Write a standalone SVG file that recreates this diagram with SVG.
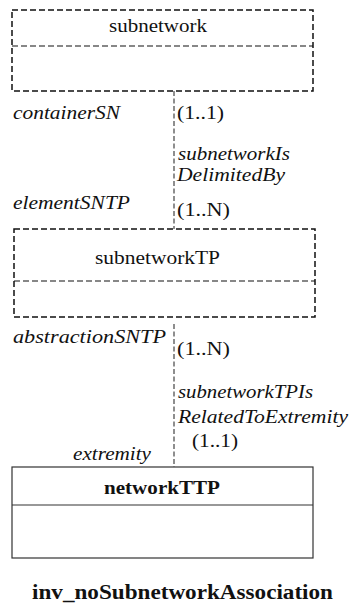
<svg xmlns="http://www.w3.org/2000/svg" width="351" height="606" viewBox="0 0 351 606">
  <style>
    text { fill: #111; }
    .it { font-style: italic; }
    .bold { font-weight: bold; }
    .mid { text-anchor: middle; }
    .dbox { fill: #fff; stroke: #111; stroke-width: 1.5; stroke-dasharray: 6 3; }
    .dline { stroke: #111; stroke-width: 1.2; stroke-dasharray: 6 3; }
    .sbox { fill: #fff; stroke: #333; stroke-width: 1.2; }
    .conn { stroke: #444; stroke-width: 1.2; stroke-dasharray: 5 2.5; fill: none; }
  </style>

  <!-- associations with role names and multiplicities -->
  <g id="connectors">
    <line class="conn" x1="174" y1="91" x2="174" y2="229"/>
    <line class="conn" x1="174" y1="324" x2="174" y2="467"/>
    <text class="it" font-family="Liberation Serif" font-size="18.5" x="13" y="119" textLength="107" lengthAdjust="spacingAndGlyphs">containerSN</text>
    <text font-family="Liberation Serif" font-size="18.5" x="177" y="119" textLength="47" lengthAdjust="spacingAndGlyphs">(1..1)</text>
    <text class="it" font-family="Liberation Serif" font-size="18.5" x="178" y="160" textLength="112" lengthAdjust="spacingAndGlyphs">subnetworkIs</text>
    <text class="it" font-family="Liberation Serif" font-size="18.5" x="177" y="181" textLength="108" lengthAdjust="spacingAndGlyphs">DelimitedBy</text>
    <text class="it" font-family="Liberation Serif" font-size="18.5" x="13" y="209" textLength="117" lengthAdjust="spacingAndGlyphs">elementSNTP</text>
    <text font-family="Liberation Serif" font-size="18.5" x="177" y="216" textLength="53" lengthAdjust="spacingAndGlyphs">(1..N)</text>
    <text class="it" font-family="Liberation Serif" font-size="18.5" x="13" y="343" textLength="153" lengthAdjust="spacingAndGlyphs">abstractionSNTP</text>
    <text font-family="Liberation Serif" font-size="18.5" x="177" y="355" textLength="53" lengthAdjust="spacingAndGlyphs">(1..N)</text>
    <text class="it" font-family="Liberation Serif" font-size="18.5" x="178" y="398" textLength="135" lengthAdjust="spacingAndGlyphs">subnetworkTPIs</text>
    <text class="it" font-family="Liberation Serif" font-size="18.5" x="178" y="423" textLength="170" lengthAdjust="spacingAndGlyphs">RelatedToExtremity</text>
    <text font-family="Liberation Serif" font-size="18.5" x="192" y="447" textLength="46" lengthAdjust="spacingAndGlyphs">(1..1)</text>
    <text class="it" font-family="Liberation Serif" font-size="18.5" x="73" y="460" textLength="78" lengthAdjust="spacingAndGlyphs">extremity</text>
  </g>

  <g id="subnetwork">
    <rect class="dbox" x="12" y="10" width="301" height="81"/>
    <line class="dline" x1="12" y1="46" x2="313" y2="46"/>
    <text class="mid" font-family="Liberation Serif" font-size="18.5" x="158" y="32" textLength="98" lengthAdjust="spacingAndGlyphs">subnetwork</text>
  </g>

  <g id="subnetworkTP">
    <rect class="dbox" x="14" y="229" width="301" height="88"/>
    <line class="dline" x1="14" y1="281" x2="315" y2="281"/>
    <text class="mid" font-family="Liberation Serif" font-size="18.5" x="157.5" y="264" textLength="125" lengthAdjust="spacingAndGlyphs">subnetworkTP</text>
  </g>

  <g id="networkTTP">
    <rect class="sbox" x="12" y="467" width="301" height="91"/>
    <line class="sbox" x1="12" y1="505" x2="313" y2="505"/>
    <text class="mid bold" font-family="Liberation Serif" font-size="18.5" x="162" y="494" textLength="116" lengthAdjust="spacingAndGlyphs">networkTTP</text>
  </g>

  <g id="caption">
    <text class="mid bold" font-family="Liberation Serif" font-size="20" x="182.5" y="599" textLength="301" lengthAdjust="spacingAndGlyphs">inv_noSubnetworkAssociation</text>
  </g>
</svg>
